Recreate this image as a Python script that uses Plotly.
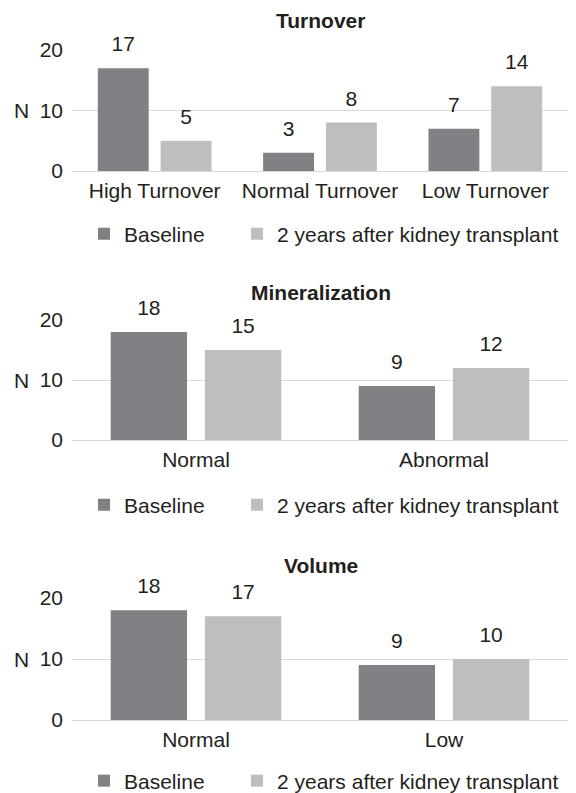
import plotly.graph_objects as go

# ---- data ----
series_names = ["Baseline", "2 years after kidney transplant"]

turnover_cats = ["High Turnover", "Normal Turnover", "Low Turnover"]
turnover_baseline = [17, 3, 7]
turnover_2yr = [5, 8, 14]

mineral_cats = ["Normal", "Abnormal"]
mineral_baseline = [18, 9]
mineral_2yr = [15, 12]

volume_cats = ["Normal", "Low"]
volume_baseline = [18, 9]
volume_2yr = [17, 10]

panel_titles = ["Turnover", "Mineralization", "Volume"]
y_ticks = [0, 10, 20]

# ---- style ----
DARK = "#808184"
LIGHT = "#bdbec0"
TXT = "#231f20"
GRID = "#d9d9d9"
FONT = "Liberation Sans, Arial, sans-serif"
FS = 21
OFF = 8            # page body margin
W, H = 576 - 2 * OFF, 793 - OFF

panels = [
    (turnover_cats, turnover_baseline, turnover_2yr),
    (mineral_cats, mineral_baseline, mineral_2yr),
    (volume_cats, volume_baseline, volume_2yr),
]

# target page-pixel geometry
zero_px = [171, 440, 720]
top_px = [50, 320, 598]
title_px = [21, 293, 565]
legend_px = [234, 505, 781]
legend_x_px = [84, 237]
x_left, x_right = 72, 569


def px(v):
    return v - OFF


fig = go.Figure()

for i, (cats, base, yr2) in enumerate(panels):
    sfx = "" if i == 0 else str(i + 1)
    xa, ya = "x" + sfx, "y" + sfx
    for j, (name, vals, col) in enumerate([(series_names[0], base, DARK), (series_names[1], yr2, LIGHT)]):
        lg = "legend" + ("" if (i == 0 and j == 0) else str(2 * i + j + 1))
        fig.add_trace(go.Bar(
            x=cats, y=vals, name=name, marker=dict(color=col, line=dict(width=0)),
            xaxis=xa, yaxis=ya, legend=lg, offsetgroup=name, hoverinfo="skip",
        ))
    for name, vals in [(series_names[0], base), (series_names[1], yr2)]:
        fig.add_trace(go.Scatter(
            x=cats, y=vals, mode="markers+text", text=[str(v) for v in vals],
            textposition="top center", textfont=dict(size=FS, color=TXT, family=FONT),
            marker=dict(size=17, opacity=0), cliponaxis=False, showlegend=False,
            xaxis=xa, yaxis=ya, offsetgroup=name, hoverinfo="skip",
        ))

layout = dict(
    width=W, height=H,
    margin=dict(l=0, r=0, t=0, b=0, autoexpand=False),
    paper_bgcolor="white", plot_bgcolor="white",
    barmode="group", bargap=0.24, bargroupgap=0.19,
    scattermode="group", scattergap=0.24,
    font=dict(family=FONT, size=FS, color=TXT),
    showlegend=True,
)

annotations = []
for i in range(3):
    sfx = "" if i == 0 else str(i + 1)
    y0 = 1 - px(zero_px[i]) / H
    y1 = 1 - px(top_px[i]) / H
    layout["xaxis" + sfx] = dict(
        domain=[px(x_left) / W, min(px(x_right) / W, 1)], anchor="y" + sfx,
        showgrid=False, showline=False, zeroline=False, automargin=False,
        tickfont=dict(size=FS, color=TXT), ticklabelstandoff=5,
        fixedrange=True,
    )
    layout["yaxis" + sfx] = dict(
        domain=[y0, y1], anchor="x" + sfx, range=[0, 20], automargin=False,
        tickvals=y_ticks, showgrid=True, gridcolor=GRID, gridwidth=1.3,
        zeroline=True, zerolinecolor=GRID, zerolinewidth=1.3,
        showline=False, ticks="", tickfont=dict(size=FS, color=TXT),
        ticklabelstandoff=8, fixedrange=True,
    )
    for j in range(2):
        key = "legend" + ("" if (i == 0 and j == 0) else str(2 * i + j + 1))
        layout[key] = dict(
            orientation="h", x=px(legend_x_px[j]) / W, xanchor="left",
            y=1 - px(legend_px[i]) / H, yanchor="middle",
            font=dict(size=FS, color=TXT, family=FONT),
            bgcolor="rgba(0,0,0,0)", borderwidth=0,
        )
    annotations.append(dict(
        text="<b>" + panel_titles[i] + "</b>", xref="paper", yref="paper",
        x=(px(x_left) + px(x_right)) / 2 / W, y=1 - px(title_px[i]) / H,
        xanchor="center", yanchor="middle", showarrow=False,
        font=dict(size=FS, color=TXT, family=FONT),
    ))
    annotations.append(dict(
        text="N", xref="paper", yref="y" + sfx, x=px(21) / W, y=10,
        xanchor="center", yanchor="middle", showarrow=False,
        font=dict(size=FS, color=TXT, family=FONT),
    ))

layout["annotations"] = annotations
fig.update_layout(**layout)
fig.write_html("out.html")
